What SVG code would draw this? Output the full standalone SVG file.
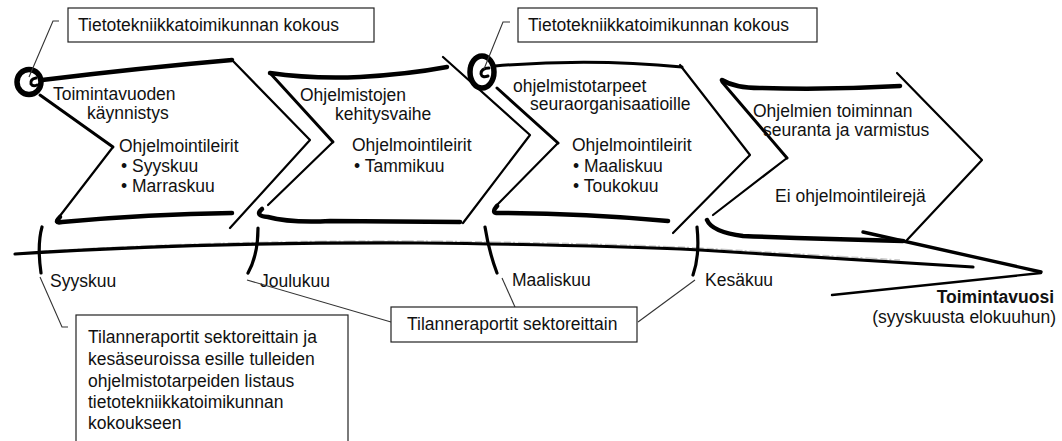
<svg xmlns="http://www.w3.org/2000/svg" width="1062" height="441" viewBox="0 0 1062 441">
  <style>
    text { font-family: "Liberation Sans", Arial, sans-serif; font-size: 17.5px; fill: #111; }
    .b { font-weight: bold; }
    .box { fill: #fff; stroke: #222; stroke-width: 1.2; }
    .lead { fill: none; stroke: #333; stroke-width: 1.1; }
    .ink { fill: none; stroke: #000; stroke-linecap: round; stroke-linejoin: round; }
    .thick { stroke-width: 4.5; }
    .mid { stroke-width: 3; }
    .thin { stroke-width: 2.2; }
    .tick { fill: none; stroke: #000; stroke-width: 3.2; stroke-linecap: round; }
    .haze { fill: none; stroke: #9a9a9a; stroke-width: 1.4; stroke-dasharray: 7 2 2 3 12 3; opacity: 0.55; }
  </style>

  <!-- Year timeline with open arrowhead -->
  <g id="timeline">
    <path class="haze" d="M40,251.5 Q 220,240 420,241 Q 600,243 700,248 L 900,260"/>
    <path class="ink" stroke-width="3.2" d="M15,254 Q 200,242 420,243 Q 600,245 700,250 L 973,267"/>
    <path class="ink" stroke-width="3.4" d="M863,232 L 1041,272"/>
    <path class="ink" stroke-width="2.4" d="M1041,273 L 832,295"/>
  </g>

  <!-- Phase 1 -->
  <g id="phase1">
    <path class="ink thick" d="M42,80 Q 140,68 232,60"/>
    <path class="ink thin" d="M232,60 L 310,140 L 230,228"/>
    <path class="ink thick" d="M60,217 Q 53,224 62,222 Q 150,214 232,213"/>
    <path class="ink thin" d="M56,221 L 113,147"/>
    <path class="ink mid" d="M113,147 L 40,95"/>
    <text x="53" y="100">Toimintavuoden</text>
    <text x="87" y="119">käynnistys</text>
    <text x="119" y="152">Ohjelmointileirit</text>
    <text x="121" y="172">• Syyskuu</text>
    <text x="121" y="192">• Marraskuu</text>
  </g>

  <!-- Phase 2 -->
  <g id="phase2">
    <path class="ink thick" d="M270,73 Q 310,79 360,77 Q 410,74 447,67"/>
    <path class="ink mid" d="M270,73 L 333,142"/>
    <path class="ink thin" d="M333,142 L 268,205"/>
    <path class="ink thick" d="M262,209 Q 254,216 268,217 Q 290,223 330,221 L 460,222"/>
    <path class="ink thin" d="M443,57 L 530,135 L 463,223"/>
    <text x="300" y="101">Ohjelmistojen</text>
    <text x="335" y="120">kehitysvaihe</text>
    <text x="352" y="151">Ohjelmointileirit</text>
    <text x="354" y="172">• Tammikuu</text>
  </g>

  <!-- Phase 3 -->
  <g id="phase3">
    <path class="ink mid" d="M495,66 Q 590,58 682,67"/>
    <path class="ink thin" d="M680,65 L 750,155 L 673,233"/>
    <path class="ink thick" d="M497,206 Q 490,214 500,213 Q 580,213 668,221"/>
    <path class="ink mid" d="M497,88 L 558,143"/>
    <path class="ink thin" d="M558,143 L 495,207"/>
    <text x="513" y="92">ohjelmistotarpeet</text>
    <text x="530" y="110">seuraorganisaatioille</text>
    <text x="572" y="151">Ohjelmointileirit</text>
    <text x="573" y="172">• Maaliskuu</text>
    <text x="573" y="192">• Toukokuu</text>
  </g>

  <!-- Phase 4 -->
  <g id="phase4">
    <path class="ink thick" d="M722,80 Q 735,88 760,88 Q 830,90 900,86"/>
    <path class="ink mid" d="M722,82 L 787,158"/>
    <path class="ink thin" d="M787,158 L 713,215"/>
    <path class="ink thin" d="M897,73 L 982,160 L 907,240"/>
    <path class="ink thick" d="M707,220 Q 712,232 743,236 Q 820,239 903,241"/>
    <text x="753" y="117">Ohjelmien toiminnan</text>
    <text x="763" y="136">seuranta ja varmistus</text>
    <text x="775" y="202">Ei ohjelmointileirejä</text>
  </g>

  <!-- Meeting markers -->
  <g id="meeting1">
    <ellipse cx="29" cy="82" rx="12" ry="12.5" fill="#fff" stroke="#000" stroke-width="5.5"/>
    <path class="ink" stroke-width="3" d="M36,78 Q 30,79 31,84 Q 33,87 37,85"/>
  </g>
  <g id="meeting2">
    <ellipse cx="482" cy="72" rx="12" ry="16" fill="#fff" stroke="#000" stroke-width="5.5"/>
    <path class="ink" stroke-width="3" d="M489,68 Q 481,68 481,74 Q 482,78 488,76"/>
  </g>

  <!-- Milestone ticks -->
  <g id="ticks">
    <path class="tick" d="M42,227 Q 37,245 41,273"/>
    <path class="tick" d="M258,228 Q 258,255 248,273"/>
    <path class="tick" d="M485,227 Q 489,252 497,273"/>
    <path class="tick" d="M697,227 Q 700,255 693,275"/>
  </g>

  <g id="month-labels">
    <text x="50" y="287">Syyskuu</text>
    <text x="260" y="287">Joulukuu</text>
    <text x="512" y="286">Maaliskuu</text>
    <text x="705" y="286">Kesäkuu</text>
    <text class="b" x="1054" y="303" text-anchor="end">Toimintavuosi</text>
    <text x="1056" y="323" text-anchor="end">(syyskuusta elokuuhun)</text>
  </g>

  <!-- Callout leader lines -->
  <g id="connectors">
    <polyline class="lead" points="59,21 53,21 29,77"/>
    <polyline class="lead" points="510,22 503,22 484,69"/>
    <polyline class="lead" points="40,277 62,327 68,327"/>
    <line class="lead" x1="247" y1="280" x2="391" y2="322"/>
    <line class="lead" x1="502" y1="278" x2="515" y2="307"/>
    <line class="lead" x1="695" y1="280" x2="638" y2="322"/>
  </g>

  <!-- Callout boxes -->
  <g id="note-meeting1">
    <rect class="box" x="68" y="8" width="306" height="34"/>
    <text x="78" y="31">Tietotekniikkatoimikunnan kokous</text>
  </g>
  <g id="note-meeting2">
    <rect class="box" x="518" y="8" width="299" height="34"/>
    <text x="528" y="31">Tietotekniikkatoimikunnan kokous</text>
  </g>
  <g id="note-reports-autumn">
    <rect class="box" x="76" y="315" width="272" height="140"/>
    <text x="88" y="343">Tilanneraportit sektoreittain ja</text>
    <text x="88" y="365">kesäseuroissa esille tulleiden</text>
    <text x="88" y="387">ohjelmistotarpeiden listaus</text>
    <text x="88" y="408">tietotekniikkatoimikunnan</text>
    <text x="88" y="429">kokoukseen</text>
  </g>
  <g id="note-reports">
    <rect class="box" x="391" y="307" width="246" height="35"/>
    <text x="407" y="330">Tilanneraportit sektoreittain</text>
  </g>
</svg>
